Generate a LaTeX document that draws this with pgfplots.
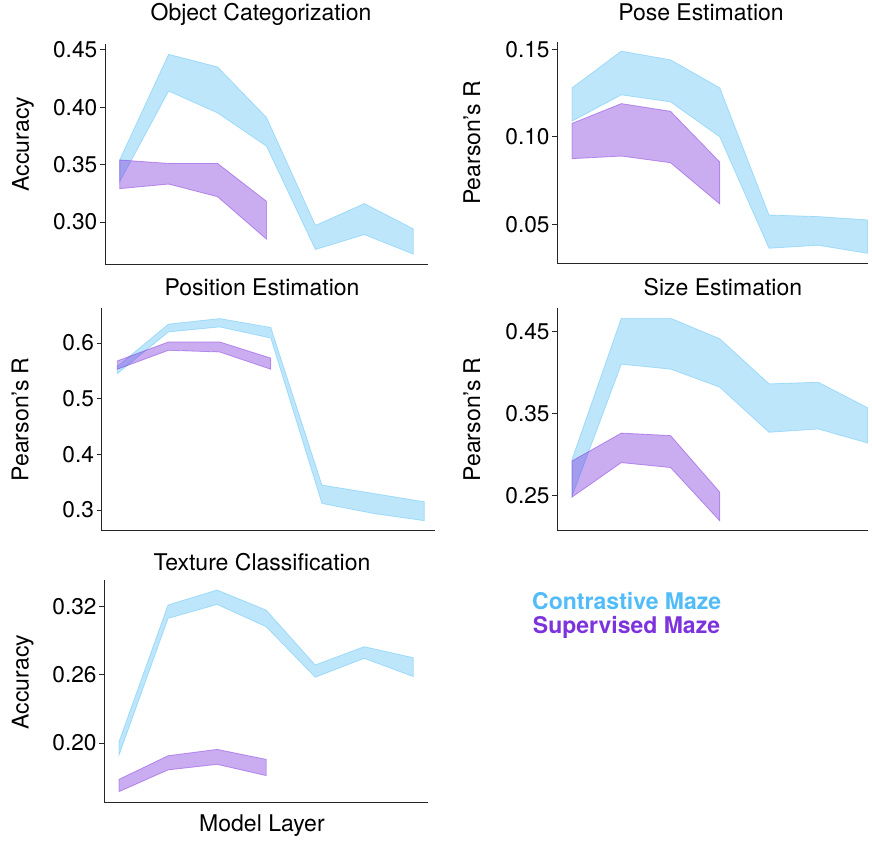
\documentclass[border=0pt]{standalone}
\usepackage{pgfplots}
\pgfplotsset{compat=1.18}
\usepgfplotslibrary{fillbetween}
\usepackage{pgfplotstable}
\usepackage{fontspec}
\setmainfont{TeX Gyre Heros}

\definecolor{cblue}{HTML}{5AC0F5}
\definecolor{cpurp}{HTML}{7B2FDB}
\definecolor{tblue}{HTML}{52BCF8}
\definecolor{tpurp}{HTML}{7D33DC}

% ---------- data ----------
\pgfplotstableread{
x hi lo
0 0.354 0.335
1 0.446 0.414
2 0.435 0.395
3 0.391 0.366
4 0.297 0.276
5 0.316 0.289
6 0.294 0.272
}\objC
\pgfplotstableread{
x hi lo
0 0.354 0.329
1 0.351 0.333
2 0.351 0.322
3 0.318 0.285
}\objS
\pgfplotstableread{
x hi lo
0 0.128 0.109
1 0.149 0.124
2 0.144 0.120
3 0.128 0.100
4 0.0553 0.0363
5 0.0544 0.0380
6 0.0525 0.0334
}\poseC
\pgfplotstableread{
x hi lo
0 0.1077 0.0875
1 0.1190 0.0890
2 0.1146 0.0852
3 0.0856 0.0616
}\poseS
\pgfplotstableread{
x hi lo
0 0.558 0.545
1 0.634 0.620
2 0.644 0.629
3 0.628 0.609
4 0.345 0.312
5 0.330 0.294
6 0.315 0.281
}\posC
\pgfplotstableread{
x hi lo
0 0.568 0.553
1 0.602 0.587
2 0.602 0.584
3 0.573 0.553
}\posS
\pgfplotstableread{
x hi lo
0 0.294 0.249
1 0.466 0.410
2 0.466 0.404
3 0.441 0.382
4 0.386 0.327
5 0.388 0.331
6 0.357 0.314
}\sizeC
\pgfplotstableread{
x hi lo
0 0.292 0.248
1 0.326 0.290
2 0.323 0.284
3 0.254 0.219
}\sizeS
\pgfplotstableread{
x hi lo
0 0.2012 0.1894
1 0.3215 0.3097
2 0.3347 0.3220
3 0.3170 0.3024
4 0.2687 0.2579
5 0.2848 0.2745
6 0.2751 0.2585
}\texC
\pgfplotstableread{
x hi lo
0 0.1680 0.1572
1 0.1888 0.1763
2 0.1944 0.1812
3 0.1856 0.1713
}\texS

\newcommand{\band}[3]{%
  \addplot[draw=none, name path=#3hi, forget plot] table[x=x,y=hi]{#1};
  \addplot[draw=none, name path=#3lo, forget plot] table[x=x,y=lo]{#1};
  \addplot[fill=#2, fill opacity=0.4, draw=#2, draw opacity=0.45, line width=0.8pt] fill between[of=#3hi and #3lo];
}

\newcommand{\lblfont}{\fontsize{23}{26}\selectfont}

\pgfplotsset{
  panel/.style={
    scale only axis, anchor=south west,
    axis x line*=bottom, axis y line*=left,
    axis line style={-, black!85, line width=0.9pt},
    xtick=\empty,
    xmin=-0.3, xmax=6.3,
    tick align=outside, major tick length=5pt,
    ytick style={black!85, line width=0.9pt},
    scaled y ticks=false,
    /pgf/number format/assume math mode=true,
    yticklabel style={font=\fontsize{22.7}{26}\selectfont, inner sep=2.5pt,
      /pgf/number format/fixed, /pgf/number format/fixed zerofill,
      /pgf/number format/precision=2},
    title style={font=\lblfont, anchor=base},
    xlabel style={font=\lblfont, anchor=base},
  }
}

\begin{document}
\begin{tikzpicture}
\path (0,0) rectangle (872pt,836pt);

% Object Categorization
\begin{axis}[panel, at={(105pt,572pt)}, width=323pt, height=220pt,
  ymin=0.2634, ymax=0.455, ytick={0.30,0.35,0.40,0.45},
  title={Object Categorization},
  title style={at={(axis description cs:0.483,1)}, yshift=17pt},
  ylabel={Accuracy},
  every axis y label/.style={at={(axis description cs:-0.254,0.545)}, rotate=90, anchor=center, font=\lblfont}]
  \band{\objC}{cblue}{a}
  \band{\objS}{cpurp}{b}
\end{axis}

% Pose Estimation
\begin{axis}[panel, at={(557.3pt,572.7pt)}, width=310.7pt, height=221.6pt,
  xmax=6.011,
  ymin=0.0277, ymax=0.1544, ytick={0.05,0.10,0.15},
  title={Pose Estimation},
  title style={at={(axis description cs:0.4625,1)}, yshift=15pt},
  ylabel={Pearson’s R},
  every axis y label/.style={at={(axis description cs:-0.2745,0.543)}, rotate=90, anchor=center, font=\lblfont}]
  \band{\poseC}{cblue}{c}
  \band{\poseS}{cpurp}{d}
\end{axis}

% Position Estimation
\begin{axis}[panel, at={(101.7pt,305.3pt)}, width=333.3pt, height=222.7pt,
  xmin=-0.305, xmax=6.21,
  ymin=0.263, ymax=0.663, ytick={0.3,0.4,0.5,0.6},
  yticklabel style={/pgf/number format/precision=1},
  title={Position Estimation},
  title style={at={(axis description cs:0.481,1)}, yshift=6.3pt},
  ylabel={Pearson’s R},
  every axis y label/.style={at={(axis description cs:-0.245,0.5)}, rotate=90, anchor=center, font=\lblfont}]
  \band{\posC}{cblue}{e}
  \band{\posS}{cpurp}{f}
\end{axis}

% Size Estimation
\begin{axis}[panel, at={(557.3pt,305.3pt)}, width=310.7pt, height=222.7pt,
  xmax=6.011,
  ymin=0.207, ymax=0.4785, ytick={0.25,0.35,0.45},
  title={Size Estimation},
  title style={at={(axis description cs:0.533,1)}, yshift=6.3pt},
  ylabel={Pearson’s R},
  every axis y label/.style={at={(axis description cs:-0.2745,0.5)}, rotate=90, anchor=center, font=\lblfont}]
  \band{\sizeC}{cblue}{g}
  \band{\sizeS}{cpurp}{h}
\end{axis}

% Texture Classification
\begin{axis}[panel, at={(104.3pt,33.7pt)}, width=323.7pt, height=222.3pt,
  ymin=0.1478, ymax=0.3435, ytick={0.20,0.26,0.32},
  title={Texture Classification},
  title style={at={(axis description cs:0.487,1)}, yshift=3.3pt},
  xlabel={Model Layer},
  xlabel style={at={(axis description cs:0.487,0)}, yshift=-29.4pt},
  ylabel={Accuracy},
  every axis y label/.style={at={(axis description cs:-0.2517,0.541)}, rotate=90, anchor=center, font=\lblfont}]
  \band{\texC}{cblue}{i}
  \band{\texS}{cpurp}{j}
\end{axis}

% legend text
\node[anchor=base, text=tblue, font=\fontsize{23}{26}\selectfont\bfseries] at (626.7pt,226.7pt) {Contrastive Maze};
\node[anchor=base, text=tpurp, font=\fontsize{23}{26}\selectfont\bfseries] at (626.5pt,202.3pt) {Supervised Maze};
\end{tikzpicture}
\end{document}
